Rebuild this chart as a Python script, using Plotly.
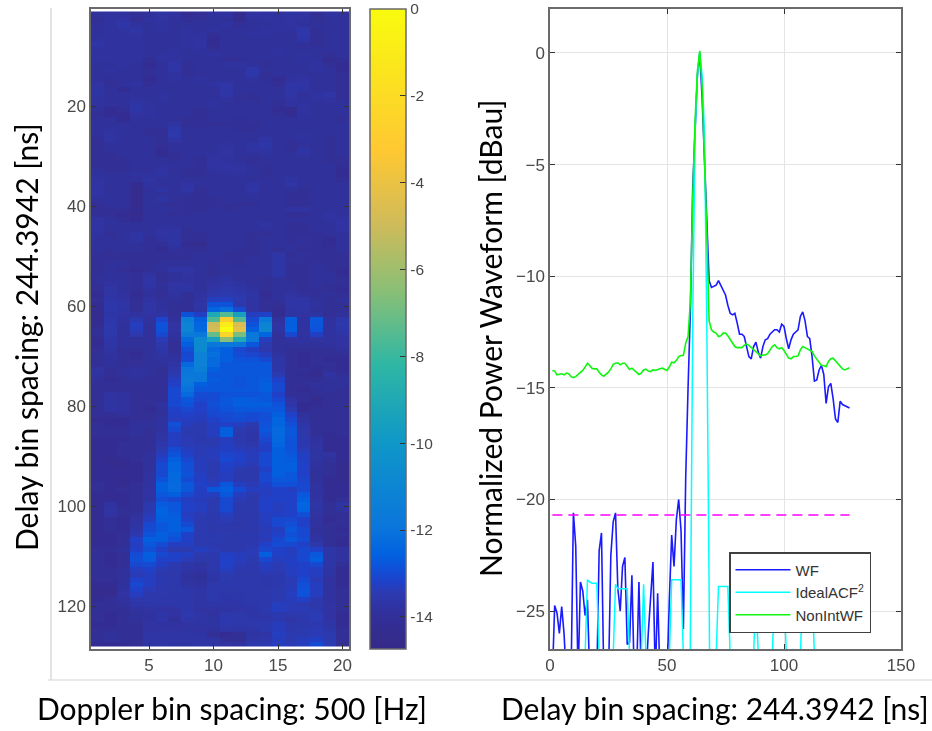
import numpy as np
import plotly.graph_objects as go

W, H = 932, 731
def fx(p): return p / W
def fy(p): return 1 - p / H

# Delay-Doppler map, colours read as minus tenths of a dB (row = delay bin, column = Doppler bin)
HEAT_TENTHS = [
[145,144,144,146,145,142,144,147,146,144,144,148,143,144,144,142,143,146,144,145],
[146,144,143,146,144,143,145,146,146,145,145,148,145,144,144,143,144,146,145,145],
[145,144,139,144,145,144,145,145,145,145,144,146,145,145,144,143,145,145,145,145],
[145,144,142,141,145,144,145,144,145,144,145,145,145,144,144,144,139,146,145,145],
[145,144,144,143,145,145,145,144,144,146,145,145,144,144,145,145,139,146,145,145],
[144,144,144,144,145,145,145,144,143,147,145,145,145,145,145,145,140,146,145,145],
[141,144,144,144,145,145,145,144,143,147,145,145,145,145,145,145,145,146,145,145],
[144,144,144,144,145,145,144,145,144,146,145,145,145,145,144,145,145,145,145,145],
[144,144,144,144,145,144,144,145,145,144,145,145,145,145,144,145,144,145,146,145],
[144,144,144,144,146,144,144,145,145,145,146,146,145,145,145,145,144,145,147,146],
[145,145,144,145,147,145,141,146,145,145,144,144,145,146,145,145,145,144,146,147],
[145,144,145,145,146,145,141,146,145,145,145,145,139,145,145,145,145,144,145,147],
[145,145,145,145,146,145,144,146,145,145,145,145,139,146,145,145,145,145,145,146],
[145,146,145,145,147,145,144,145,144,145,145,145,144,146,147,144,143,145,145,146],
[143,146,145,144,146,145,145,145,145,144,141,145,145,145,146,141,141,145,145,146],
[142,145,147,145,145,145,145,145,145,145,140,145,145,145,145,141,142,145,145,146],
[142,145,145,145,145,144,145,145,145,145,141,145,146,145,145,141,145,144,141,146],
[144,145,145,144,145,144,145,145,145,145,144,146,146,145,145,143,145,144,143,146],
[144,145,145,141,144,145,145,145,145,144,145,145,145,145,146,144,144,145,145,145],
[145,147,146,140,144,145,145,145,146,145,145,145,145,145,147,148,144,145,145,145],
[146,147,147,143,144,145,145,145,146,145,145,145,145,145,146,147,144,145,145,145],
[145,145,147,145,145,145,145,146,146,145,145,146,145,145,145,145,145,145,145,146],
[145,145,145,145,145,145,142,146,146,146,146,146,146,145,145,145,145,145,145,145],
[145,144,145,145,146,146,139,145,145,145,145,146,146,145,145,145,145,145,145,145],
[145,143,145,145,146,146,137,145,145,145,145,145,145,145,145,145,144,145,145,145],
[146,142,145,145,145,146,141,145,145,145,145,145,145,141,145,145,144,145,146,145],
[146,145,145,145,145,146,145,145,145,145,144,145,142,139,145,146,145,145,146,145],
[146,145,145,145,145,147,145,145,145,145,143,145,143,142,145,146,142,145,146,145],
[146,146,145,145,145,147,146,145,145,144,143,145,145,144,145,145,143,145,146,145],
[146,146,146,145,145,145,146,145,146,143,144,145,146,145,145,145,145,145,146,146],
[146,146,146,145,145,145,145,145,146,143,143,144,145,146,145,145,145,145,145,146],
[145,146,146,145,145,143,145,146,146,144,143,143,145,146,145,145,145,145,145,147],
[145,145,145,144,144,142,145,146,146,145,145,144,145,146,145,145,145,145,145,147],
[143,145,145,145,142,145,145,145,145,145,145,145,145,145,145,142,145,145,145,146],
[143,145,145,147,144,145,145,143,145,145,145,145,142,145,145,141,145,145,145,145],
[143,145,145,148,145,142,145,141,146,145,145,145,141,145,145,145,146,145,145,145],
[143,145,145,148,145,145,145,145,146,145,145,145,144,145,145,146,146,145,145,145],
[145,145,145,148,145,142,145,146,146,146,145,145,145,145,145,146,146,145,145,145],
[146,145,145,148,145,145,146,146,146,146,146,146,146,145,145,146,146,145,145,145],
[146,146,146,147,145,145,145,146,146,145,146,145,145,145,145,143,143,145,145,145],
[146,146,147,148,145,145,146,146,145,145,145,145,145,145,145,146,146,145,143,145],
[143,145,146,147,145,145,145,145,145,145,145,145,145,145,145,145,145,145,144,143],
[143,145,145,145,145,145,145,145,145,145,145,145,145,142,145,146,146,145,145,143],
[143,145,145,145,145,143,143,146,145,145,145,145,145,145,145,146,146,145,145,143],
[144,146,145,142,145,143,142,146,146,145,145,145,146,146,145,146,146,146,145,145],
[145,145,145,142,146,144,142,146,146,145,145,145,146,145,145,146,145,146,147,145],
[145,145,145,145,146,146,142,147,148,145,145,145,146,145,145,145,146,146,147,145],
[145,146,145,145,146,147,145,146,146,145,145,146,146,145,146,145,146,146,146,145],
[146,146,146,146,146,146,146,146,145,145,146,146,146,145,141,146,145,146,146,146],
[146,146,146,146,146,146,146,146,145,145,146,146,145,145,140,145,146,146,146,146],
[146,145,145,146,146,145,145,145,145,146,145,146,145,145,140,146,146,145,146,146],
[146,145,146,147,146,145,141,141,145,146,145,145,145,145,140,146,146,145,146,147],
[146,145,145,146,144,146,145,143,145,146,145,145,145,145,140,146,146,145,145,147],
[145,145,145,146,141,146,145,144,145,144,142,145,145,146,145,146,146,145,145,146],
[146,143,145,146,141,145,143,143,145,143,141,142,145,146,145,145,146,145,146,146],
[146,141,145,146,144,146,142,142,145,141,138,140,144,146,145,145,146,146,146,147],
[147,141,144,147,145,146,144,146,144,138,135,137,141,147,145,143,145,146,145,146],
[146,140,143,146,143,145,145,146,143,132,132,135,142,146,145,141,141,145,146,145],
[147,139,141,146,141,145,146,146,141,125,125,137,143,146,146,141,140,144,146,146],
[148,139,142,146,141,144,146,146,142,120,116,127,143,146,147,142,141,145,146,146],
[148,140,143,144,143,142,146,125,131,90,75,95,132,130,147,142,143,142,146,145],
[147,139,144,136,144,129,145,108,122,76,30,75,128,112,145,122,144,124,144,139],
[147,138,145,132,145,125,143,106,120,50,10,46,125,106,143,122,144,124,144,138],
[146,137,145,133,145,125,143,106,119,48,0,42,122,105,142,122,144,125,144,139],
[146,138,145,137,145,128,144,110,112,72,25,68,112,120,145,128,144,131,144,141],
[147,140,145,145,145,134,145,118,104,95,65,90,111,132,145,143,144,143,144,143],
[147,141,145,145,145,137,146,122,104,112,112,113,124,135,145,145,144,145,144,143],
[146,142,146,146,145,140,146,126,104,118,122,128,131,137,145,146,146,146,146,145],
[146,144,146,147,145,142,145,128,107,116,122,127,129,132,144,146,147,146,146,146],
[146,145,146,146,145,144,144,127,107,118,122,125,125,128,141,146,147,146,147,147],
[146,145,146,146,145,145,141,118,107,118,124,124,124,124,140,146,147,146,146,147],
[143,146,145,144,145,146,139,114,108,122,124,124,124,124,140,146,146,147,146,147],
[144,146,145,144,145,146,135,112,112,124,124,124,124,124,135,146,147,148,143,146],
[145,147,146,145,146,146,132,110,112,123,124,125,124,123,130,146,146,146,145,145],
[146,146,146,146,146,146,130,112,122,124,124,125,124,122,128,146,146,145,145,145],
[146,146,146,146,146,146,128,115,124,124,124,124,124,122,128,146,147,146,145,146],
[146,143,144,146,146,146,128,118,127,127,125,125,125,124,130,146,146,146,146,146],
[146,142,144,146,146,146,128,124,128,127,124,122,123,124,128,143,146,148,146,146],
[146,142,144,146,146,144,128,125,130,126,124,122,122,122,125,140,147,147,146,146],
[146,143,144,146,147,145,130,128,130,127,125,124,124,124,124,135,147,146,146,146],
[146,146,145,146,146,145,131,130,132,128,127,126,127,126,122,130,145,146,146,146],
[147,147,147,146,146,144,132,132,133,130,128,127,128,126,120,128,143,146,146,146],
[146,147,147,145,145,144,126,133,135,132,130,132,135,125,120,126,140,146,146,146],
[146,146,146,145,146,144,128,135,135,132,122,135,139,124,118,124,138,146,146,146],
[146,146,146,145,146,142,132,135,135,132,122,136,140,126,118,124,138,146,147,146],
[147,147,147,146,146,141,132,134,136,135,132,136,140,128,119,125,136,144,147,147],
[147,147,146,146,146,139,132,134,135,135,132,135,137,130,120,125,136,143,147,147],
[147,147,146,146,146,135,127,132,134,133,131,133,134,131,122,125,134,142,147,147],
[147,147,146,146,145,133,125,130,134,133,129,130,133,128,122,124,131,142,143,147],
[147,148,147,146,145,130,122,128,133,134,128,130,133,128,122,123,131,142,145,147],
[147,148,148,147,145,128,120,126,133,135,130,132,134,128,122,122,130,144,146,148],
[147,147,147,147,145,128,120,126,133,135,131,135,137,130,122,122,130,145,146,148],
[147,147,147,147,144,128,119,125,132,135,132,136,137,128,122,124,130,145,146,148],
[147,147,148,147,144,125,119,127,131,134,132,136,137,128,124,124,129,145,147,148],
[146,147,148,146,144,122,118,124,130,132,124,132,134,130,126,126,128,144,147,147],
[146,147,146,146,143,122,118,124,131,124,122,127,132,132,130,132,128,144,147,147],
[147,147,147,146,143,124,122,128,132,132,124,132,135,132,130,130,124,144,147,147],
[147,147,147,146,142,126,128,132,133,135,128,134,137,130,130,130,122,143,147,146],
[147,144,147,146,136,123,124,130,132,135,128,136,137,130,132,130,120,140,146,142],
[147,143,146,146,136,121,124,130,132,135,128,136,137,130,132,130,121,142,146,144],
[147,143,146,145,134,121,123,132,134,136,132,137,138,132,131,130,126,143,146,146],
[147,146,147,143,132,122,122,130,135,136,134,138,138,132,128,128,130,144,147,146],
[147,146,147,142,128,124,122,127,135,138,136,139,136,133,128,126,130,144,146,146],
[147,146,147,140,127,124,122,124,135,138,136,138,138,134,132,124,128,145,146,147],
[147,147,146,136,125,122,124,130,135,136,135,136,136,133,130,126,128,144,146,146],
[147,147,146,130,122,122,126,130,136,135,136,136,136,134,128,124,127,142,146,147],
[147,147,146,132,124,127,132,132,135,136,137,137,136,130,127,128,130,138,146,147],
[146,146,145,130,126,130,135,135,132,134,136,136,134,128,130,132,128,130,140,144],
[146,147,146,127,122,128,130,131,135,136,131,133,134,122,130,132,128,124,140,144],
[146,147,146,126,123,130,130,134,138,138,130,133,135,128,132,131,128,122,140,144],
[146,147,146,128,127,131,135,140,142,137,130,134,136,132,134,131,130,128,140,146],
[146,146,145,132,130,135,136,140,143,138,132,136,137,133,134,132,130,132,142,147],
[146,146,145,134,132,136,138,144,145,140,135,137,138,136,136,132,130,132,142,147],
[146,146,145,130,132,136,138,144,145,140,135,137,138,139,136,134,128,134,144,147],
[147,147,145,128,132,136,138,142,144,138,136,137,138,139,136,134,126,132,144,147],
[148,148,144,130,134,137,138,139,141,137,138,138,138,138,135,133,125,132,144,146],
[148,148,143,132,137,138,139,139,141,137,139,139,138,138,135,132,125,132,144,146],
[147,146,144,137,138,139,139,139,141,138,140,139,138,137,135,133,130,136,144,146],
[146,146,145,140,139,139,139,139,141,140,141,140,139,137,132,134,135,138,143,146],
[146,146,146,144,143,143,143,139,143,143,142,141,140,136,132,134,134,136,143,146],
[146,147,146,145,144,140,143,137,141,144,138,138,140,139,136,137,135,134,143,147],
[146,147,146,145,144,140,145,139,141,142,136,138,139,139,136,141,136,134,143,147],
[147,147,146,146,143,144,144,143,142,142,137,139,138,136,133,138,137,136,140,147],
[146,146,146,146,143,143,143,142,143,144,141,141,140,136,133,137,135,134,139,146],
[146,145,146,146,141,141,141,141,142,146,147,146,142,141,132,135,135,134,135,146],
[146,145,146,146,141,141,141,141,141,142,146,146,141,139,133,135,133,131,135,146],
[147,147,147,146,142,141,142,142,141,141,143,144,138,136,132,134,132,127,134,146],
]
# Correction from my first colour reading to the reference colour bar (both in tenths of a dB)
READ_LEVELS = [0, 100, 104, 108, 112, 118, 122, 125, 130, 135, 140, 145, 148]
BAR_LEVELS = [0, 100, 108, 114, 118, 123, 126, 128.5, 132, 134.5, 136.5, 139, 144]
DOPPLER_TICKS = [5, 10, 15, 20]
DELAY_TICKS = [20, 40, 60, 80, 100, 120]
CBAR_TICKS = [0, -2, -4, -6, -8, -10, -12, -14]
CBAR_LABELS = ["0", "-2", "-4", "-6", "-8", "-10", "-12", "-14"]
Z_MIN, Z_MAX = -14.74, 0

# Waveforms, one value per delay bin (1..128). Values below the axis floor are clipped by the axis.
WF = [-28,-24.75,-25.1,-26,-24.8,-26,-28,-28,-28,-20.6,-22.1,-28,-23.7,-24.1,-25.2,-24.5,-28,-28,-28,-28,
      -22.3,-21.5,-28,-28,-28,-22.5,-21,-20.6,-24,-25,-23,-22.6,-26.5,-26.4,-23.4,-28,-28,-23.7,-28,-28,
      -28,-26,-24.5,-22.8,-28,-24.2,-28,-28,-28,-28,-24.5,-21.6,-23,-20.9,-20,-21.4,-25.8,-19,-15,-11.5,
      -6,-3.7,-1,0,-2,-4.7,-7.5,-10.2,-10.5,-10.46,-10.4,-10.2,-10.4,-10.6,-10.84,-11.3,-11.66,-11.73,-11.66,-12.1,
      -12.6,-12.6,-12.7,-13.15,-13.6,-13.7,-13.15,-12.95,-13.4,-13.67,-13.15,-12.85,-12.8,-12.6,-12.5,-12.4,-12.4,-12.5,-12.15,-12.25,
      -12.8,-13.25,-12.85,-12.6,-12.5,-12.4,-11.8,-11.6,-12,-12.7,-12.8,-13.6,-14.7,-14.65,-14.2,-14,-14.4,-15.7,-14.95,-14.8,
      -15.5,-16.4,-16.55,-15.6,-15.75,-15.8,-15.85,-15.9]
IDEAL_ACF2 = [-27]*14 + [-27,-23.6,-23.7,-23.75,-23.75,-23.75,-27] + [-27]*5 + [-27,-23.8,-24,-24,-24,-24,-24,-27] + [-27]*4 + \
    [-27,-23.8,-27] + [-27]*9 + [-27,-23.6,-23.6,-23.6,-23.6,-23.6,-27,-27,-40,-24,-12,-3.5,-1,0,-1,-3.5,-12,-24,-40,-27,-27,-23.9,-23.9,-23.9,-23.9,-23.9,-27] + \
    [-27]*9 + [-27,-24,-27] + [-27]*5 + [-27,-24,-24,-24,-24,-24,-27] + [-27]*5 + [-27,-24,-24,-24,-24,-24,-27] + [-27]*15
NONINT_WF = [-14.22,-14.25,-14.42,-14.4,-14.37,-14.42,-14.34,-14.37,-14.5,-14.54,-14.5,-14.4,-14.3,-14.22,-14.07,-13.9,-14,-14.13,-14.15,-14.15,
      -14.3,-14.42,-14.48,-14.4,-14.3,-14.15,-13.95,-13.9,-13.88,-13.97,-13.9,-13.9,-14.07,-14.18,-14.12,-14.22,-14.33,-14.4,-14.34,-14.2,
      -14.16,-14.25,-14.27,-14.2,-14.22,-14.2,-14.15,-14.12,-14.18,-14.22,-14.07,-13.85,-13.88,-13.77,-13.6,-13.55,-13.55,-13,-12.7,-11.1,
      -6.5,-3,-0.8,0.1,-1.5,-4.5,-8,-12,-12.4,-12.5,-12.55,-12.7,-12.67,-12.55,-12.55,-12.67,-12.85,-13.03,-13.15,-13.2,
      -13.2,-13.2,-13.1,-13.03,-13.1,-13.2,-13.3,-13.4,-13.5,-13.57,-13.53,-13.53,-13.47,-13.33,-13.15,-13.07,-13.2,-13.25,-13.2,-13.33,
      -13.5,-13.67,-13.7,-13.6,-13.6,-13.57,-13.3,-13.15,-13.2,-13.27,-13.33,-13.37,-13.57,-13.7,-13.84,-14,-14,-14.05,-13.82,-13.7,
      -13.67,-13.78,-13.93,-14,-14.15,-14.2,-14.15,-14.1]
THRESHOLD = -20.7
BINS_DELAY = list(range(1, 129))
BINS_DOPPLER = list(range(1, 21))
WAVE_X_TICKS = [0, 50, 100, 150]
WAVE_Y_TICKS = [0, -5, -10, -15, -20, -25]

PARULA = [[0, "#352A87"], [0.05, "#322F98"], [0.0875, "#2C3AB0"], [0.104, "#2040C8"], [0.125, "#1050D8"], [0.149, "#0262E0"],
          [0.186, "#0A74DC"], [0.322, "#0F97C8"], [0.444, "#2EB7A4"], [0.556, "#87BF77"], [0.667, "#D1BB59"], [0.778, "#FEC832"], [1, "#F9FB0E"]]
AXC, TICKC, GRIDC = "#6a6a6a", "#484848", "#e4e4e4"
z = (-np.interp(np.array(HEAT_TENTHS, dtype=float), READ_LEVELS, BAR_LEVELS) / 10).tolist()

fig = go.Figure()
fig.add_trace(go.Heatmap(
    x=BINS_DOPPLER, y=BINS_DELAY, z=z, zmin=Z_MIN, zmax=Z_MAX, colorscale=PARULA, zsmooth=False,
    xaxis="x", yaxis="y", showscale=True,
    colorbar=dict(thickness=36, thicknessmode="pixels", len=640 / H, lenmode="fraction", x=fx(370), xanchor="left",
                  y=fy(649), yanchor="bottom", xpad=0, ypad=0, outlinecolor=AXC, outlinewidth=1.5,
                  tickvals=CBAR_TICKS, ticktext=CBAR_LABELS, ticks="inside", ticklen=6, tickcolor="#333333",
                  tickfont=dict(family="Liberation Sans", size=15.5, color=TICKC)),
))
common = dict(xaxis="x2", yaxis="y2", mode="lines")
fig.add_trace(go.Scatter(x=BINS_DELAY, y=WF, name="WF", line=dict(color="#1a1aff", width=1.6), legendgroup="a", **common))
fig.add_trace(go.Scatter(x=BINS_DELAY, y=IDEAL_ACF2, name="IdealACF<sup>2</sup>", line=dict(color="#00ffff", width=1.5), legendgroup="b", **common))
fig.add_trace(go.Scatter(x=BINS_DELAY, y=NONINT_WF, name="NonIntWF", line=dict(color="#10f510", width=1.6), legendgroup="c", **common))
fig.add_trace(go.Scatter(x=BINS_DELAY, y=[THRESHOLD] * len(BINS_DELAY), showlegend=False,
                         line=dict(color="#ff00ff", width=1.5, dash="10px,6px"), **common))

axis = dict(showline=True, linecolor=AXC, linewidth=1.5, mirror="ticks", ticks="inside", tickcolor="#333333", ticklen=5,
            tickfont=dict(family="Liberation Sans", size=17, color=TICKC), zeroline=False)
fig.update_layout(
    width=W, height=H, margin=dict(l=0, r=0, t=0, b=0, autoexpand=False), paper_bgcolor="white", plot_bgcolor="white", autosize=False,
    xaxis=dict(domain=[fx(91), fx(349)], range=[0.5, 20.5], tickvals=DOPPLER_TICKS, showgrid=False, anchor="y", **axis),
    yaxis=dict(domain=[fy(649), fy(9)], range=[128.5, 0.5], tickvals=DELAY_TICKS, showgrid=False, anchor="x", **axis),
    xaxis2=dict(domain=[fx(550), fx(901)], range=[0, 150], tickvals=WAVE_X_TICKS, showgrid=True, gridcolor=GRIDC, anchor="y2", **axis),
    yaxis2=dict(domain=[fy(649), fy(9)], range=[-26.7, 1.97], tickvals=WAVE_Y_TICKS, showgrid=True, gridcolor=GRIDC, anchor="x2", **axis),
    legend=dict(x=fx(729), y=fy(552), xanchor="left", yanchor="top", bgcolor="white", bordercolor="#404040", borderwidth=1.5,
                font=dict(family="Liberation Sans", size=15, color="#333333"), itemwidth=55, tracegroupgap=0, traceorder="grouped",
                entrywidth=82, entrywidthmode="pixels"),
    shapes=[dict(type="line", xref="paper", yref="paper", x0=fx(51), x1=fx(51), y0=fy(8), y1=fy(680), line=dict(color="#c8c8c8", width=1)),
            dict(type="line", xref="paper", yref="paper", x0=fx(48), x1=fx(932), y0=fy(680), y1=fy(680), line=dict(color="#d4d4d4", width=1))],
    annotations=[
        dict(text="Doppler bin spacing: 500 [Hz]", x=fx(232), y=fy(708), xref="paper", yref="paper", showarrow=False, xanchor="center", yanchor="middle",
             font=dict(family="Lato", size=30, color="black")),
        dict(text="Delay bin spacing: 244.3942 [ns]", x=fx(715), y=fy(708), xref="paper", yref="paper", showarrow=False, xanchor="center", yanchor="middle",
             font=dict(family="Lato", size=30, color="black")),
        dict(text="Delay bin spacing: 244.3942 [ns]", x=fx(26), y=fy(337), xref="paper", yref="paper", showarrow=False, textangle=-90, xanchor="center", yanchor="middle",
             font=dict(family="Lato", size=30, color="black")),
        dict(text="Normalized Power Waveform [dBau]", x=fx(490), y=fy(338), xref="paper", yref="paper", showarrow=False, textangle=-90, xanchor="center", yanchor="middle",
             font=dict(family="Lato", size=30, color="black")),
    ],
)
fig.write_html("out.html", config=dict(displayModeBar=False),
               post_script="document.body.style.margin='0';document.body.style.overflow='hidden';document.querySelectorAll('.main-svg').forEach(function(s){s.style.filter='blur(0.6px)';});")
